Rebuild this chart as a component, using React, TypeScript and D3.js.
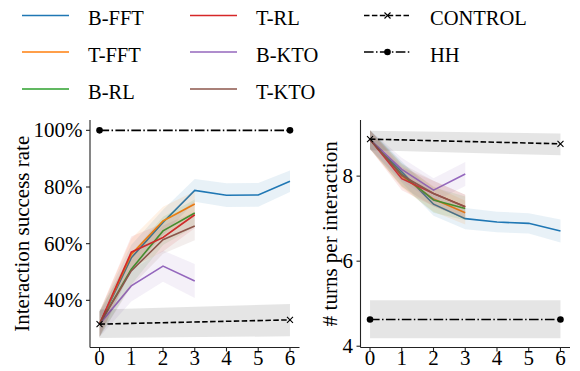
import * as d3 from "d3";

// ---- data ----
const steps = [0, 1, 2, 3, 4, 5, 6];
const seriesNames = ["B-FFT", "T-FFT", "B-RL", "T-RL", "B-KTO", "T-KTO"];
const seriesColors = ["#1f77b4", "#ff7f0e", "#2ca02c", "#d62728", "#9467bd", "#8c564b"];

// success rate (%)
const successBFFT = [31.6, 55.0, 67.5, 78.8, 77.1, 77.2, 82.0];
const successTFFT = [31.6, 56.2, 68.0, 74.0];
const successBRL = [31.6, 51.0, 64.5, 70.8];
const successTRL = [31.6, 57.0, 62.2, 70.2];
const successBKTO = [31.6, 45.1, 52.1, 46.8];
const successTKTO = [31.6, 50.4, 61.4, 66.2];
const successErrBFFT = [4.5, 4.5, 4.5, 4.0, 4.2, 4.2, 3.8];
const successErrTFFT = [4.5, 5.5, 5.0, 4.5];
const successErrBRL = [4.5, 5.5, 5.0, 4.8];
const successErrTRL = [4.5, 5.5, 5.0, 4.8];
const successErrBKTO = [4.5, 5.5, 5.5, 6.0];
const successErrTKTO = [4.5, 5.5, 5.0, 5.0];

// turns per interaction
const turnsBFFT = [8.86, 8.1, 7.34, 7.0, 6.92, 6.89, 6.71];
const turnsTFFT = [8.86, 8.0, 7.46, 7.14];
const turnsBRL = [8.86, 8.04, 7.44, 7.24];
const turnsTRL = [8.86, 7.94, 7.59, 7.28];
const turnsBKTO = [8.86, 8.16, 7.67, 8.05];
const turnsTKTO = [8.86, 8.02, 7.59, 7.28];
const turnsErrBFFT = [0.22, 0.25, 0.27, 0.25, 0.24, 0.24, 0.27];
const turnsErrTFFT = [0.22, 0.27, 0.3, 0.28];
const turnsErrBRL = [0.22, 0.27, 0.3, 0.28];
const turnsErrTRL = [0.22, 0.27, 0.3, 0.28];
const turnsErrBKTO = [0.22, 0.27, 0.28, 0.28];
const turnsErrTKTO = [0.22, 0.27, 0.3, 0.28];

// baselines (only first and last step)
const baselineSteps = [0, 6];
const controlSuccess = [31.6, 33.1];
const controlSuccessLow = [26.7, 27.3];
const controlSuccessHigh = [36.8, 38.7];
const hhSuccess = [100, 100];
const controlTurns = [8.87, 8.76];
const controlTurnsLow = [8.61, 8.49];
const controlTurnsHigh = [9.07, 9.0];
const hhTurns = [4.63, 4.63];
const hhTurnsLow = [4.19, 4.19];
const hhTurnsHigh = [5.08, 5.08];

const successTicks = [40, 60, 80, 100];
const turnsTicks = [4, 6, 8];

const FONT = "Liberation Serif, Times New Roman, Times, serif";
const AXIS = "#222";
const CONTROL_DASH = "5.5 2.4";
const HH_DASH = "9.6 2.4 1.5 2.4";

type Pt = { x: number; y: number; lo: number; hi: number };

const toPts = (means: number[], errs: number[]): Pt[] =>
  means.map((m, i) => ({ x: steps[i], y: m, lo: m - errs[i], hi: m + errs[i] }));

const band = (m: number[], lo: number[], hi: number[]): Pt[] =>
  m.map((v, i) => ({ x: baselineSteps[i], y: v, lo: lo[i], hi: hi[i] }));

function Cross({ cx, cy }: { cx: number; cy: number }) {
  const s = 3;
  return (
    <path
      d={`M${cx - s},${cy - s}L${cx + s},${cy + s}M${cx - s},${cy + s}L${cx + s},${cy - s}`}
      stroke="#000"
      strokeWidth={1.1}
    />
  );
}

type PanelProps = {
  xRange: [number, number];
  yDomain: [number, number];
  yTicks: number[];
  fmt: (v: number) => string;
  label: string;
  labelX: number;
  series: Pt[][];
  control: Pt[];
  hh: Pt[];
};

function Panel(p: PanelProps) {
  const x = d3.scaleLinear().domain([-0.3, 6.3]).range(p.xRange);
  const y = d3.scaleLinear().domain(p.yDomain).range([347.5, 120]);
  const [y0, y1] = y.range();
  const area = d3
    .area<Pt>()
    .x(d => x(d.x))
    .y0(d => y(d.lo))
    .y1(d => y(d.hi));
  const line = d3
    .line<Pt>()
    .x(d => x(d.x))
    .y(d => y(d.y));

  return (
    <g>
      {/* coloured runs with their bands */}
      {p.series.map((pts, i) => (
        <g key={i}>
          <path d={area(pts) ?? ""} fill={seriesColors[i]} fillOpacity={0.1} />
          <path d={line(pts) ?? ""} fill="none" stroke={seriesColors[i]} strokeWidth={1.6} />
        </g>
      ))}

      {/* CONTROL */}
      <path d={area(p.control) ?? ""} fill="#000" fillOpacity={0.1} />
      <path d={line(p.control) ?? ""} fill="none" stroke="#000" strokeWidth={1.6} strokeDasharray={CONTROL_DASH} />
      {p.control.map((d, i) => (
        <Cross key={i} cx={x(d.x)} cy={y(d.y)} />
      ))}

      {/* HH */}
      <path d={area(p.hh) ?? ""} fill="#000" fillOpacity={0.1} />
      <path d={line(p.hh) ?? ""} fill="none" stroke="#000" strokeWidth={1.6} strokeDasharray={HH_DASH} />
      {p.hh.map((d, i) => (
        <circle key={i} cx={x(d.x)} cy={y(d.y)} r={3.3} fill="#000" />
      ))}

      {/* x axis */}
      <line x1={p.xRange[0]} x2={p.xRange[1]} y1={y0} y2={y0} stroke={AXIS} strokeWidth={1.1} />
      {steps.map(t => (
        <g key={t} transform={`translate(${x(t)},${y0})`}>
          <line y2={4} stroke={AXIS} strokeWidth={1.1} />
          <text y={17.5} textAnchor="middle" fontFamily={FONT} fontSize={21} fill="#000">
            {t}
          </text>
        </g>
      ))}

      {/* y axis */}
      <line x1={p.xRange[0]} x2={p.xRange[0]} y1={y0} y2={y1} stroke={AXIS} strokeWidth={1.1} />
      {p.yTicks.map(t => (
        <g key={t} transform={`translate(${p.xRange[0]},${y(t)})`}>
          <line x2={-4} stroke={AXIS} strokeWidth={1.1} />
          <text x={-7.5} dy="0.33em" textAnchor="end" fontFamily={FONT} fontSize={21} fill="#000">
            {p.fmt(t)}
          </text>
        </g>
      ))}

      <text
        transform={`translate(${p.labelX},${(y0 + y1) / 2}) rotate(-90)`}
        dy="0.35em"
        textAnchor="middle"
        fontFamily={FONT}
        fontSize={21}
        fill="#000"
      >
        {p.label}
      </text>
    </g>
  );
}

function Legend() {
  const items = [
    ...seriesNames.map((name, i) => ({ name, color: seriesColors[i], kind: "solid" })),
    { name: "CONTROL", color: "#000", kind: "control" },
    { name: "HH", color: "#000", kind: "hh" },
  ];
  const colX = [22, 190, 364];
  const rowY = [15.5, 52, 89];
  return (
    <g>
      {items.map((it, i) => {
        const lx = colX[Math.floor(i / 3)];
        const ly = rowY[i % 3];
        return (
          <g key={it.name}>
            <line
              x1={lx}
              x2={lx + 47}
              y1={ly}
              y2={ly}
              stroke={it.color}
              strokeWidth={1.6}
              strokeDasharray={it.kind === "control" ? CONTROL_DASH : it.kind === "hh" ? HH_DASH : undefined}
            />
            {it.kind === "control" && <Cross cx={lx + 23.5} cy={ly} />}
            {it.kind === "hh" && <circle cx={lx + 23.5} cy={ly} r={3.3} fill="#000" />}
            <text x={lx + 66} y={ly + 9.5} fontFamily={FONT} fontSize={20.5} fill="#000">
              {it.name}
            </text>
          </g>
        );
      })}
    </g>
  );
}

export default function App() {
  const successSeries = [
    toPts(successBFFT, successErrBFFT),
    toPts(successTFFT, successErrTFFT),
    toPts(successBRL, successErrBRL),
    toPts(successTRL, successErrTRL),
    toPts(successBKTO, successErrBKTO),
    toPts(successTKTO, successErrTKTO),
  ];
  const turnsSeries = [
    toPts(turnsBFFT, turnsErrBFFT),
    toPts(turnsTFFT, turnsErrTFFT),
    toPts(turnsBRL, turnsErrBRL),
    toPts(turnsTRL, turnsErrTRL),
    toPts(turnsBKTO, turnsErrBKTO),
    toPts(turnsTKTO, turnsErrTKTO),
  ];

  return (
    <svg width={580} height={371} style={{ position: "absolute", left: 0, top: 0, background: "#fff" }}>
      <Legend />
      <Panel
        xRange={[90, 299.5]}
        yDomain={[23.35, 103.65]}
        yTicks={successTicks}
        fmt={v => `${v}%`}
        label="Interaction success rate"
        labelX={22}
        series={successSeries}
        control={band(controlSuccess, controlSuccessLow, controlSuccessHigh)}
        hh={band(hhSuccess, hhSuccess, hhSuccess)}
      />
      <Panel
        xRange={[360.5, 570]}
        yDomain={[3.97, 9.32]}
        yTicks={turnsTicks}
        fmt={v => `${v}`}
        label="# turns per interaction"
        labelX={330}
        series={turnsSeries}
        control={band(controlTurns, controlTurnsLow, controlTurnsHigh)}
        hh={band(hhTurns, hhTurnsLow, hhTurnsHigh)}
      />
    </svg>
  );
}
